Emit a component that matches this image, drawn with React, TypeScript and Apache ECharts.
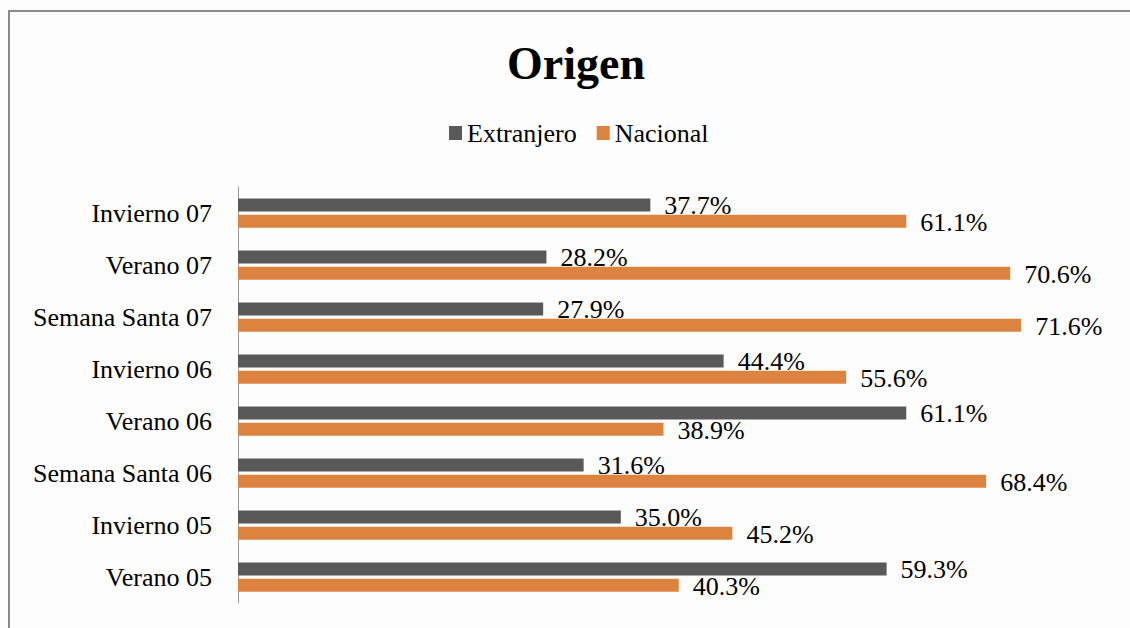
import React, { useEffect, useRef } from "react";
import * as echarts from "echarts";

const categories = [
  "Verano 05",
  "Invierno 05",
  "Semana Santa 06",
  "Verano 06",
  "Invierno 06",
  "Semana Santa 07",
  "Verano 07",
  "Invierno 07",
];
const extranjero = [59.3, 35.0, 31.6, 61.1, 44.4, 27.9, 28.2, 37.7];
const nacional = [40.3, 45.2, 68.4, 38.9, 55.6, 71.6, 70.6, 61.1];
const seriesNames = ["Extranjero", "Nacional"];
const titleText = "Origen";

const FONT = "'Liberation Serif', 'Times New Roman', serif";

export default function App() {
  const ref = useRef<HTMLDivElement>(null);
  useEffect(() => {
    if (!ref.current) return;
    const chart = echarts.init(ref.current, undefined, { renderer: "svg" });
    const label = {
      show: true,
      position: "right",
      distance: 14,
      offset: [0, 1],
      formatter: (p: any) => p.value.toFixed(1) + "%",
      fontFamily: FONT,
      fontSize: 26,
      color: "#000",
    };
    chart.setOption({
      animation: false,
      backgroundColor: "#fdfdfd",
      graphic: [
        {
          type: "rect",
          shape: { x: 9, y: 11, width: 1200, height: 700 },
          style: { fill: "none", stroke: "#8a8a8a", lineWidth: 2 },
          silent: true,
        },
      ],
      title: {
        text: titleText,
        left: 571,
        textAlign: "center",
        top: 35,
        textStyle: { fontFamily: FONT, fontWeight: "bold", fontSize: 46, color: "#000" },
      },
      legend: {
        data: seriesNames,
        left: 449,
        top: 120,
        padding: 0,
        itemWidth: 13,
        itemHeight: 14,
        itemGap: 20,
        icon: "rect",
        textStyle: { fontFamily: FONT, fontSize: 26, color: "#000" },
      },
      grid: { left: 238, right: 17, top: 187, bottom: 25, containLabel: false },
      xAxis: {
        type: "value",
        min: 0,
        max: 80,
        show: false,
        splitLine: { show: false },
      },
      yAxis: {
        type: "category",
        data: categories,
        axisLine: { show: true, lineStyle: { color: "#9a9a9a", width: 1 } },
        axisTick: { show: false },
        axisLabel: { fontFamily: FONT, fontSize: 26, color: "#000", margin: 26 },
      },
      series: [
        {
          name: seriesNames[0],
          type: "bar",
          data: extranjero,
          itemStyle: { color: "#595959" },
          barWidth: 13,
          barGap: "25%",
          barCategoryGap: "44%",
          label,
        },
        {
          name: seriesNames[1],
          type: "bar",
          data: nacional,
          itemStyle: { color: "#dc833f" },
          barWidth: 13,
          label,
        },
      ],
    });
    return () => chart.dispose();
  }, []);
  return (
    <div
      ref={ref}
      style={{ position: "fixed", left: 0, top: 0, width: 1130, height: 628 }}
    />
  );
}
